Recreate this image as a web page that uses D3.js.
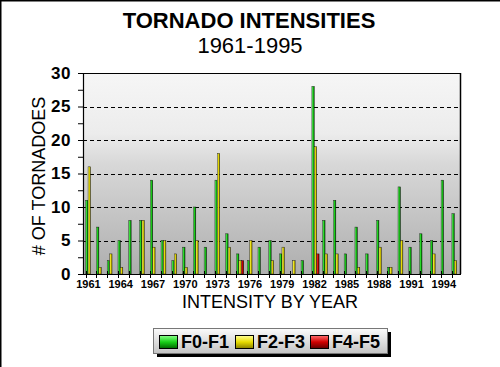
<!DOCTYPE html>
<html><head><meta charset="utf-8">
<script src="https://cdn.jsdelivr.net/npm/d3@7"></script>
<style>body{margin:0;background:#fff}svg{display:block;font-family:"Liberation Sans",Arial,sans-serif}</style>
</head><body>
<script>
const years = [1961,1962,1963,1964,1965,1966,1967,1968,1969,1970,1971,1972,1973,1974,1975,1976,1977,1978,1979,1980,1981,1982,1983,1984,1985,1986,1987,1988,1989,1990,1991,1992,1993,1994,1995];
const f01 = [11,7,2,5,8,8,14,5,2,4,10,4,14,6,3,2,4,5,3,0,2,28,8,11,3,7,3,8,1,13,4,6,5,14,9];
const f23 = [16,1,3,1,0,8,4,5,3,1,5,0,18,4,2,5,0,2,4,2,0,19,3,3,0,1,0,4,1,5,0,0,3,0,2];
const f45 = [0,0,0,0,0,0,0,0,0,0,0,0,0,0,2,0,0,0,0,0,0,3,0,0,0,0,0,0,0,0,0,0,0,0,0];
const seriesNames = ["F0-F1","F2-F3","F4-F5"];
const yTickValues = [0,2.5,5,7.5,10,12.5,15,17.5,20,22.5,25,27.5,30];
const gridValues = [5,10,15,20,25];
const xTickLabels = [1961,1964,1967,1970,1973,1976,1979,1982,1985,1988,1991,1994];

const W = 500, H = 367;
const svg = d3.select("body").append("svg").attr("width", W).attr("height", H);
const defs = svg.append("defs");

const colors = {
  "F0-F1": ["#8cff8c", "#18d018", "#006400"],
  "F2-F3": ["#ffff9a", "#e8dc00", "#8a8000"],
  "F4-F5": ["#ff7070", "#d00000", "#600000"]
};
seriesNames.forEach((s, i) => {
  const g = defs.append("linearGradient").attr("id", "bar" + i).attr("x1", 0).attr("x2", 1).attr("y1", 0).attr("y2", 0);
  g.append("stop").attr("offset", "0%").attr("stop-color", colors[s][0]);
  g.append("stop").attr("offset", "45%").attr("stop-color", colors[s][1]);
  g.append("stop").attr("offset", "100%").attr("stop-color", colors[s][2]);
  const h = defs.append("linearGradient").attr("id", "sw" + i).attr("x1", 0).attr("x2", 0).attr("y1", 0).attr("y2", 1);
  h.append("stop").attr("offset", "0%").attr("stop-color", colors[s][0]);
  h.append("stop").attr("offset", "50%").attr("stop-color", colors[s][1]);
  h.append("stop").attr("offset", "100%").attr("stop-color", colors[s][2]);
});
const bg = defs.append("linearGradient").attr("id", "plotbg").attr("x1", 0).attr("x2", 0).attr("y1", 0).attr("y2", 1);
[["0%", "#f6f6f6"], ["30%", "#ececec"], ["45%", "#d8d8d8"], ["100%", "#aeaeae"]].forEach(s =>
  bg.append("stop").attr("offset", s[0]).attr("stop-color", s[1]));
const lg = defs.append("linearGradient").attr("id", "legbg").attr("x1", 0).attr("x2", 0).attr("y1", 0).attr("y2", 1);
[["0%", "#fbfbfb"], ["100%", "#c4c4c4"]].forEach(s =>
  lg.append("stop").attr("offset", s[0]).attr("stop-color", s[1]));

// outer frame (top and left edges)
svg.append("line").attr("x1", 0).attr("x2", W).attr("y1", 0.75).attr("y2", 0.75).attr("stroke", "#000").attr("stroke-width", 1.5);
svg.append("line").attr("x1", 0.75).attr("x2", 0.75).attr("y1", 0).attr("y2", H).attr("stroke", "#000").attr("stroke-width", 1.5);

const plot = {l: 83, r: 460, t: 73, b: 274};
const x = d3.scaleBand().domain(years).range([plot.l, plot.r]);
const xi = d3.scaleBand().domain(seriesNames).range([0, x.bandwidth()]).paddingInner(0).paddingOuter(0.744).align(0.75);
const y = d3.scaleLinear().domain([0, 30]).range([plot.b, plot.t]);

// plot background
svg.append("rect").attr("x", plot.l).attr("y", plot.t).attr("width", plot.r - plot.l).attr("height", plot.b - plot.t).attr("fill", "url(#plotbg)");

// grid
svg.append("g").selectAll("line").data(gridValues).join("line")
  .attr("x1", plot.l).attr("x2", plot.r)
  .attr("y1", d => Math.round(y(d)) + 0.5).attr("y2", d => Math.round(y(d)) + 0.5)
  .attr("stroke", "#000").attr("stroke-width", 1).attr("stroke-dasharray", "4,3");

// bars
const seriesVals = [f01, f23, f45];
const barData = [];
years.forEach((yr, i) => seriesNames.forEach((s, j) => {
  if (seriesVals[j][i] > 0) barData.push({yr, s, j, v: seriesVals[j][i]});
}));
svg.append("g").selectAll("rect").data(barData).join("rect")
  .attr("x", d => x(d.yr) + xi(d.s))
  .attr("y", d => y(d.v))
  .attr("width", xi.bandwidth())
  .attr("height", d => y(0) - y(d.v))
  .attr("fill", d => "url(#bar" + d.j + ")")
  .attr("stroke", "#000").attr("stroke-width", 0.5).attr("stroke-opacity", 0.8);

// frame top & right
svg.append("line").attr("x1", plot.l).attr("x2", plot.r + 1).attr("y1", plot.t + 0.5).attr("y2", plot.t + 0.5).attr("stroke", "#000");
svg.append("line").attr("x1", plot.r + 0.5).attr("x2", plot.r + 0.5).attr("y1", plot.t).attr("y2", plot.b).attr("stroke", "#000").attr("stroke-width", 1.5);

// y axis
const yAxis = d3.axisLeft(y).tickValues(yTickValues).tickSize(5).tickPadding(7)
  .tickFormat(d => d % 5 === 0 ? d : "");
const ya = svg.append("g").attr("transform", `translate(${plot.l},0)`).call(yAxis);
ya.select(".domain").attr("stroke", "#000").attr("stroke-width", 1.2);
ya.selectAll("text").attr("font-size", 17).attr("font-weight", "bold").attr("fill", "#000")
  .attr("font-family", '"Liberation Sans",Arial,sans-serif').attr("letter-spacing", 0.5);

// x axis
svg.append("line").attr("x1", plot.l).attr("x2", plot.r + 1).attr("y1", plot.b + 0.5).attr("y2", plot.b + 0.5).attr("stroke", "#000").attr("stroke-width", 1.2);
svg.append("g").selectAll("line").data(years).join("line")
  .attr("x1", d => Math.round(x(d) + xi("F0-F1")) + 0.5).attr("x2", d => Math.round(x(d) + xi("F0-F1")) + 0.5)
  .attr("y1", plot.b - 3).attr("y2", plot.b + 4).attr("stroke", "#000");
svg.append("g").selectAll("text").data(xTickLabels).join("text")
  .attr("x", d => x(d) + x.bandwidth() / 2).attr("y", 288)
  .attr("text-anchor", "middle").attr("font-size", 11).attr("font-weight", "bold").text(d => d);

// axis titles
svg.append("text").attr("transform", "translate(45,176) rotate(-90)").attr("text-anchor", "middle")
  .attr("font-size", 18).text("# OF TORNADOES");
svg.append("text").attr("x", 270).attr("y", 308).attr("text-anchor", "middle")
  .attr("font-size", 18).text("INTENSITY BY YEAR");

// titles
svg.append("text").attr("x", 249).attr("y", 28).attr("text-anchor", "middle")
  .attr("font-size", 22).attr("font-weight", "bold").text("TORNADO INTENSITIES");
svg.append("text").attr("x", 250).attr("y", 53).attr("text-anchor", "middle")
  .attr("font-size", 22).text("1961-1995");

// legend
const leg = svg.append("g");
leg.append("rect").attr("x", 157).attr("y", 332).attr("width", 234).attr("height", 25).attr("fill", "#000");
leg.append("rect").attr("x", 153.5).attr("y", 328.5).attr("width", 234).attr("height", 25).attr("fill", "url(#legbg)").attr("stroke", "#777");
const legX = [159, 235, 310];
seriesNames.forEach((s, i) => {
  leg.append("rect").attr("x", legX[i] + 0.5).attr("y", 335.5).attr("width", 18).attr("height", 13)
    .attr("fill", "url(#sw" + i + ")").attr("stroke", "#000");
  leg.append("text").attr("x", legX[i] + 22).attr("y", 348).attr("font-size", 18).attr("font-weight", "bold").text(s);
});
</script>
</body></html>
